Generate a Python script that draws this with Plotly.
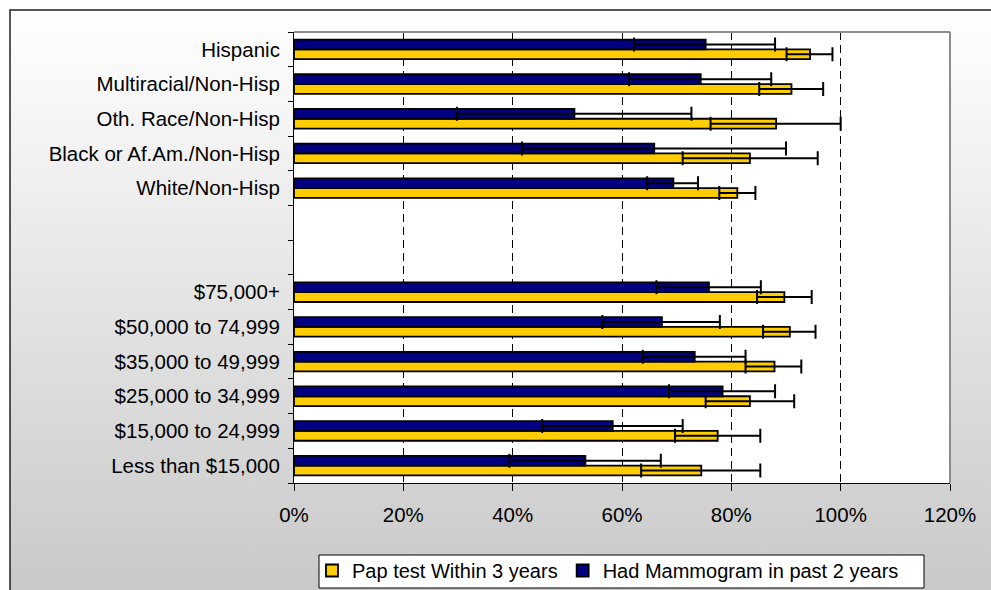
import base64
import plotly.graph_objects as go

# ---- data (top to bottom as shown) ----
categories = [
    "Hispanic", "Multiracial/Non-Hisp", "Oth. Race/Non-Hisp",
    "Black or Af.Am./Non-Hisp", "White/Non-Hisp", " ", "  ",
    "$75,000+", "$50,000 to 74,999", "$35,000 to 49,999",
    "$25,000 to 34,999", "$15,000 to 24,999", "Less than $15,000",
]
bar_categories = [
    "Hispanic", "Multiracial/Non-Hisp", "Oth. Race/Non-Hisp",
    "Black or Af.Am./Non-Hisp", "White/Non-Hisp",
    "$75,000+", "$50,000 to 74,999", "$35,000 to 49,999",
    "$25,000 to 34,999", "$15,000 to 24,999", "Less than $15,000",
]
pap_values = [94.4, 91.0, 88.2, 83.4, 81.1, 89.7, 90.7, 87.9, 83.4, 77.5, 74.5]
pap_lower = [90.1, 85.1, 76.2, 71.1, 77.8, 84.7, 85.8, 82.6, 75.3, 69.7, 63.5]
pap_upper = [98.5, 96.8, 100.0, 95.8, 84.4, 94.7, 95.4, 92.8, 91.5, 85.3, 85.3]
mammo_values = [75.3, 74.4, 51.3, 65.9, 69.4, 75.9, 67.3, 73.3, 78.4, 58.3, 53.3]
mammo_lower = [62.2, 61.3, 29.8, 41.7, 64.6, 66.3, 56.4, 63.8, 68.6, 45.4, 39.4]
mammo_upper = [88.0, 87.3, 72.7, 90.0, 73.9, 85.4, 77.9, 82.6, 88.0, 71.1, 67.1]
x_ticks = [0, 20, 40, 60, 80, 100, 120]
x_tick_labels = ["0%", "20%", "40%", "60%", "80%", "100%", "120%"]
series_names = ["Pap test Within 3 years", "Had Mammogram in past 2 years"]
series_colors = ["#FFCC00", "#000080"]

# ---- geometry ----
W, H = 991, 590
L, R, T, B = 294, 41, 32, 107
pw, ph = W - L - R, H - T - B


def px(xp):
    return (xp - L) / pw


def py(yp):
    return (H - B - yp) / ph


FONT = "Liberation Sans, Arial, sans-serif"

fig = go.Figure()
for name, color, vals, lo, hi in [
    (series_names[0], series_colors[0], pap_values, pap_lower, pap_upper),
    (series_names[1], series_colors[1], mammo_values, mammo_lower, mammo_upper),
]:
    fig.add_trace(go.Bar(
        y=bar_categories, x=vals, orientation="h", name=name,
        marker=dict(color=color, line=dict(color="black", width=1.8)),
        error_x=dict(type="data", symmetric=False,
                     array=[h - v for h, v in zip(hi, vals)],
                     arrayminus=[v - l for v, l in zip(vals, lo)],
                     color="black", thickness=2, width=7),
    ))

# gradient background (chart area)
svg = ('<svg xmlns="http://www.w3.org/2000/svg" width="100" height="100" preserveAspectRatio="none">'
       '<defs><linearGradient id="g" x1="0" y1="0" x2="0" y2="1">'
       '<stop offset="0" stop-color="#ffffff"/><stop offset="1" stop-color="#c7c7c7"/>'
       '</linearGradient></defs><rect width="100" height="100" fill="url(#g)"/></svg>')
src = "data:image/svg+xml;base64," + base64.b64encode(svg.encode()).decode()

fig.update_layout(
    width=W, height=H,
    margin=dict(l=L, r=R, t=T, b=B, pad=0, autoexpand=False),
    paper_bgcolor="white", plot_bgcolor="rgba(0,0,0,0)",
    font=dict(family=FONT, size=20, color="black"),
    barmode="group", bargap=0.435, bargroupgap=0,
    showlegend=True,
    legend=dict(orientation="h", x=px(312), xanchor="left", y=py(551), yanchor="top",
                bgcolor="rgba(0,0,0,0)", borderwidth=0,
                font=dict(family=FONT, size=20, color="black"),
                traceorder="normal", itemwidth=30),
    images=[dict(source=src, xref="paper", yref="paper",
                 x=px(10), y=py(10), sizex=(1010 - 10) / pw, sizey=(610 - 10) / ph,
                 xanchor="left", yanchor="top", sizing="stretch", layer="below")],
    shapes=[
        dict(type="rect", xref="paper", yref="paper", x0=px(10), x1=px(1010),
             y0=py(610), y1=py(10), line=dict(color="#222222", width=1.5),
             fillcolor="rgba(0,0,0,0)", layer="below"),
        dict(type="rect", xref="paper", yref="paper", x0=0, x1=1, y0=0, y1=1,
             line=dict(width=0), fillcolor="white", layer="below"),
        dict(type="line", xref="paper", yref="paper", x0=0, x1=1, y0=1, y1=1,
             line=dict(color="#8c8c8c", width=2), layer="above"),
        dict(type="line", xref="paper", yref="paper", x0=1, x1=1, y0=0, y1=1,
             line=dict(color="#8c8c8c", width=2), layer="above"),
        # legend box
        dict(type="rect", xref="paper", yref="paper", x0=px(319), x1=px(924),
             y0=py(588), y1=py(555), line=dict(color="black", width=1),
             fillcolor="white", layer="above"),
    ],
)
fig.update_xaxes(
    range=[0, 120], tickmode="array", tickvals=x_ticks, ticktext=x_tick_labels,
    showgrid=True, gridcolor="black", gridwidth=1, griddash="8px,5px",
    zeroline=False, showline=True, linecolor="black", linewidth=1,
    ticks="outside", ticklen=7, tickcolor="black", tickwidth=1,
    ticklabelstandoff=6, tickfont=dict(family=FONT, size=20.5, color="black"),
)
fig.update_yaxes(
    type="category", categoryorder="array", categoryarray=list(reversed(categories)),
    range=[-0.5, len(categories) - 0.5],
    showgrid=False, zeroline=False, showline=True, linecolor="black", linewidth=1,
    ticks="outside", ticklen=5, tickcolor="black", tickwidth=1, tickson="boundaries",
    ticklabelstandoff=9, tickfont=dict(family=FONT, size=20.5, color="black"),
)

fig.write_html("out.html", config={"displayModeBar": False},
               post_script="document.body.style.margin='0';document.body.style.overflow='hidden';")
